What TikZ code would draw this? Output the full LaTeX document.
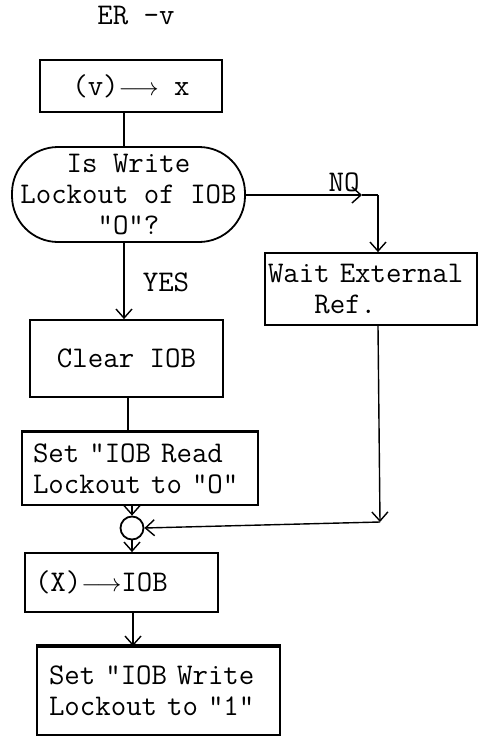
\documentclass[tikz,border=0pt]{standalone}
\usetikzlibrary{arrows.meta}
\begin{document}
\begin{tikzpicture}[x=1pt,y=-1pt,
  txt/.style={font=\ttfamily\fontsize{30}{31}\selectfont, align=center, inner sep=0pt},
  box/.style={txt, draw, line width=1.8pt},
  conn/.style={line width=1.4pt},
  arr/.style={conn, -{Straight Barb[length=9pt,width=16pt,line width=1.4pt]}},
  lbl/.style={font=\ttfamily\fontsize{30}{31}\selectfont, inner sep=0pt}]
\useasboundingbox (0,0) rectangle (479,736);
\node[lbl] (title) at (136,16) {ER -v};
\node[box, minimum width=182pt, minimum height=52pt] (b1) at (131,86) {(v)$\longrightarrow$ x};
\node[box, minimum width=233pt, minimum height=95pt, rounded corners=46pt] (st) at (128.5,194.5) {Is Write\\Lockout of IOB\\"O"?};
\node[box, minimum width=212pt, minimum height=72pt, align=left, text width=206pt] (wait) at (371,289) {Wait External\\\phantom{xxx}Ref.};
\node[box, minimum width=193pt, minimum height=77pt] (clr) at (126.5,358.5) {Clear IOB};
\node[box, minimum width=236pt, minimum height=73pt, align=left, text width=214pt] (set) at (140,468.5) {Set "IOB Read\\Lockout to "O"};
\node[draw, circle, line width=1.8pt, minimum size=23pt, inner sep=0pt] (c) at (132,528) {};
\node[box, minimum width=193pt, minimum height=59pt, align=left, text width=173pt] (bx) at (121.5,582.5) {(X)$\longrightarrow$IOB};
\node[box, minimum width=243pt, minimum height=88pt, align=left, text width=219pt] (fin) at (158.5,691) {Set "IOB Write\\Lockout to "1"};
\draw[line width=3.5pt] (fin.north west) -- (fin.north east);
\draw[line width=3.5pt] (fin.south west) -- (fin.south east);
\draw[line width=2.6pt] (set.north west) -- (set.north east);
% connectors
\coordinate (p1) at (124,112);
\draw[conn] (p1) -- (p1 |- st.north);
\coordinate (nomid) at (362,195);
\coordinate (nocorner) at (378,195);
\draw[arr] (st.east |- nomid) -- (nomid);
\draw[conn] (nomid) -- (nocorner);
\draw[arr] (nocorner) -- (nocorner |- wait.north);
\node[lbl, anchor=south] (no) at (344,192) {NO};
\coordinate (p2) at (124,242);
\draw[arr] (p2) -- (p2 |- clr.north);
\node[lbl] (yes) at (166,282) {YES};
\coordinate (p3) at (128,397);
\draw[conn] (p3) -- (p3 |- set.north);
\coordinate (wdown) at (380,522);
\draw[arr] (wait.south -| nocorner) -- (wdown);
\draw[arr] (wdown) -- (c.east);
\draw[arr] (set.south -| c) -- (c.north);
\draw[arr] (c.south) -- (c.south |- bx.north);
\coordinate (p4) at (133,612);
\draw[arr] (p4) -- (p4 |- fin.north);
\end{tikzpicture}
\end{document}
